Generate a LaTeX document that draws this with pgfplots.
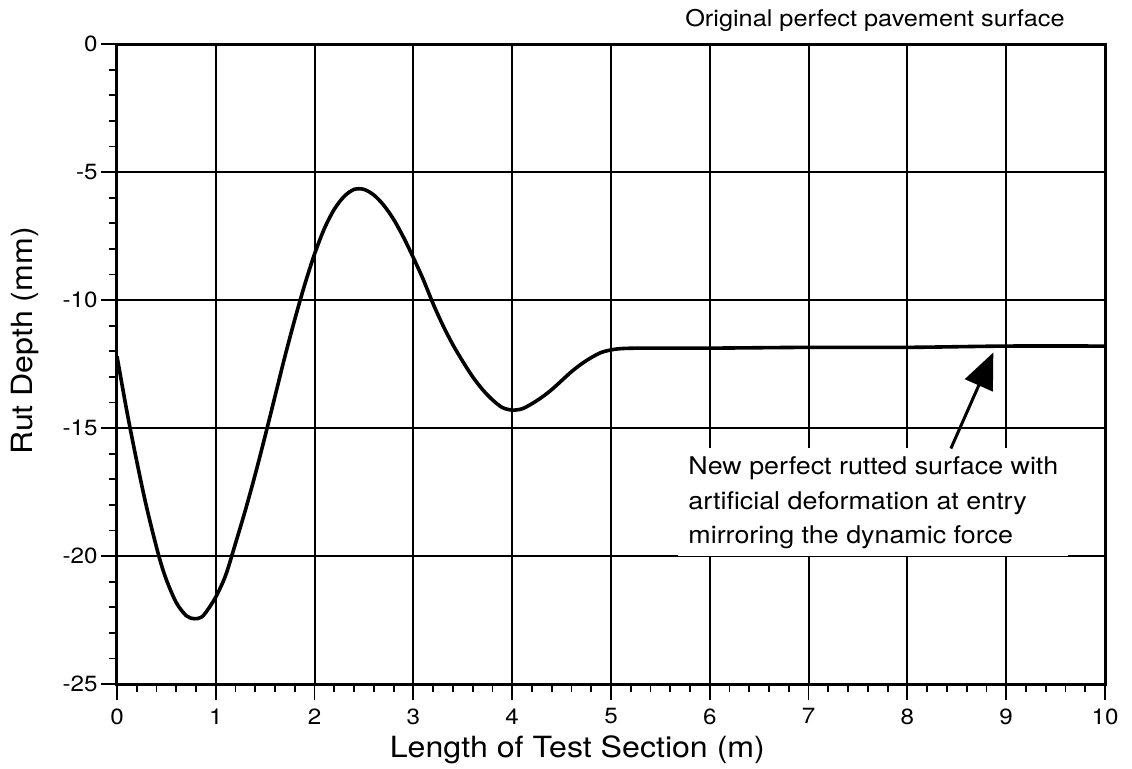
\documentclass[border=0pt]{standalone}
\usepackage{fontspec}
\setmainfont{TeX Gyre Heros}[FakeStretch=1.1]
\usepackage{pgfplots}
\pgfplotsset{compat=1.18}
\usetikzlibrary{arrows.meta}

\begin{document}
\begin{tikzpicture}
\begin{axis}[
    at={(0,0)}, anchor=south west,
    width=494pt, height=320pt, scale only axis,
    xmin=0, xmax=10, ymin=-25, ymax=0,
    clip=false,
    xtick={0,1,2,3,4,5,6,7,8,9,10},
    xticklabels={0,1,2,3,4,5,6,7,8,9,10},
    ytick={-25,-20,-15,-10,-5,0},
    yticklabels={-25,-20,-15,-10,-5,0},
    minor x tick num=4,
    minor y tick num=4,
    xtick pos=bottom, ytick pos=left,
    tick align=outside,
    major tick length=8pt, minor tick length=4pt,
    grid=major,
    major grid style={line width=1pt, draw=black},
    axis line style={line width=1.5pt},
    tick style={line width=0.9pt, black},
    tick label style={font=\fontsize{11}{13}\selectfont},
    xticklabel style={inner ysep=4pt},
    yticklabel style={inner xsep=1.5pt},
    xlabel={Length of Test Section (m)},
    ylabel={Rut Depth (mm)},
    label style={font=\fontsize{14.6}{17}\selectfont},
    xlabel style={at={(axis description cs:0.466,-0.102)}, anchor=center},
    ylabel style={at={(axis description cs:-0.093,0.536)}, anchor=center},
]
% rut profile
\addplot[black, line width=1.8pt, smooth] coordinates {
    (0,-12.2) (0.1,-14.35) (0.2,-16.3) (0.3,-18.1) (0.42,-19.95)
    (0.5,-20.93) (0.6,-21.82) (0.7,-22.33) (0.78,-22.45) (0.85,-22.4) (0.9,-22.2)
    (1.0,-21.6) (1.1,-20.75) (1.2,-19.5) (1.3,-18.2) (1.4,-16.8) (1.5,-15.3)
    (1.6,-13.75) (1.7,-12.2) (1.8,-10.75) (1.9,-9.4) (2.0,-8.2) (2.1,-7.2)
    (2.2,-6.45) (2.3,-5.95) (2.4,-5.68) (2.5,-5.68) (2.6,-5.9) (2.7,-6.3)
    (2.8,-6.85) (2.9,-7.55) (3.0,-8.35) (3.1,-9.2) (3.2,-10.15) (3.3,-11.0)
    (3.4,-11.75) (3.5,-12.4) (3.6,-13.0) (3.7,-13.5) (3.8,-13.9) (3.9,-14.2)
    (4.0,-14.3) (4.1,-14.25) (4.2,-14.05) (4.3,-13.8) (4.4,-13.5) (4.5,-13.15)
    (4.6,-12.8) (4.7,-12.5) (4.8,-12.25) (4.9,-12.05) (5.0,-11.95) (5.1,-11.9)
    (5.3,-11.88) (6,-11.88) (7,-11.85) (8,-11.85) (9,-11.8) (10,-11.8)
};
\fill[white] (axis cs:5.68,-15.8) rectangle (axis cs:9.63,-20.0);
\node[anchor=north west, inner sep=0pt, align=left,
      font=\fontsize{12.2}{17.2}\selectfont] at (axis cs:5.78,-16.12)
    {New perfect rutted surface with\\artificial deformation at entry\\mirroring the dynamic force};
\draw[line width=1.5pt, -{Triangle[length=18pt,width=15pt]}]
    (axis cs:8.44,-15.8) -- (axis cs:8.87,-12.05);
\node[anchor=base east, inner sep=0pt, font=\fontsize{11.5}{13}\selectfont]
    at (axis description cs:0.9595,1.028) {Original perfect pavement surface};
\end{axis}
\pgfresetboundingbox
\useasboundingbox (-58.5pt,-42pt) rectangle (507.5pt,342pt);
\end{tikzpicture}
\end{document}
